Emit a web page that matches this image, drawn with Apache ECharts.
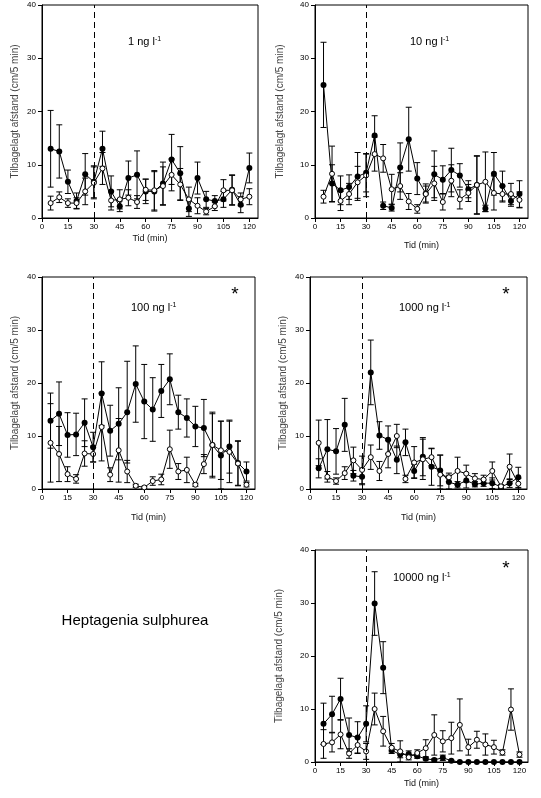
<!DOCTYPE html>
<html>
<head>
<meta charset="utf-8">
<script src="https://cdn.jsdelivr.net/npm/echarts@6/dist/echarts.min.js"></script>
<style>
  html, body { margin: 0; padding: 0; background: #fff; }
  #chart { width: 541px; height: 798px; }
</style>
</head>
<body>
<div id="chart"></div>
<script>
// tid (min) for hver maaling
var times = [5, 10, 15, 20, 25, 30, 35, 40, 45, 50, 55, 60, 65, 70, 75, 80, 85, 90, 95, 100, 105, 110, 115, 120];
var xTicks = [0, 15, 30, 45, 60, 75, 90, 105, 120];
var yTicks = [0, 10, 20, 30, 40];
var exposureStart = 30;
var concLabels = ['1', '10', '100', '1000', '10000'];
var significant = [false, false, true, true, true];

// 1 ng/l
var c1Filled    = [13, 12.5, 6.8, 3.2, 8.2, 6.8, 13, 5, 2.2, 7.5, 8.1, 5, 5, 6.5, 11, 8.4, 1.8, 7.5, 3.5, 3.2, 3.5, 5.3, 2.5, 9.4];
var c1FilledErr = [7.2, 5, 2.2, 1.5, 3.9, 3, 3.3, 2.9, 1, 3.2, 4.5, 2.3, 3.7, 4, 4.7, 5, 1.5, 3, 1.5, 1, 1.5, 2.8, 1.5, 2.8];
var c1Open      = [2.8, 3.9, 2.8, 2.8, 5, 6.6, 9.3, 3.3, 3.5, 3.8, 3, 5.3, 5.2, 6, 8.1, 6.3, 3.5, 2.3, 1.2, 2.2, 5.2, 5.2, 3.5, 4];
var c1OpenErr   = [1.3, 1, 0.8, 1, 2.5, 3, 3, 1.8, 1.8, 1.5, 1.2, 2, 3.7, 3.6, 3, 3, 2.3, 1.5, 0.6, 0.8, 2, 2.8, 1.2, 1.5];

// 10 ng/l
var c10Filled    = [25, 6.5, 5.2, 5.8, 7.8, 8.5, 15.5, 2.3, 1.9, 9.5, 14.8, 7.4, 4.6, 8.2, 7.2, 9, 8, 5.4, 6.2, 1.8, 8.3, 6, 3.2, 4.5];
var c10FilledErr = [8, 3.5, 2.7, 2.3, 4.5, 3.6, 3.7, 0.7, 0.6, 4.6, 6, 3, 1.8, 4.4, 2.6, 4.1, 2.2, 1.6, 5.5, 0.6, 4, 2.8, 1, 2.5];
var c10Open      = [4, 8.3, 3.2, 4.5, 6.7, 8, 12, 11.2, 5.4, 6, 3.1, 1.7, 4.5, 6.5, 3, 7, 3.5, 4.7, 6.2, 6.8, 4.7, 4.5, 4.5, 3.4];
var c10OpenErr   = [1.2, 5.2, 1.8, 2, 3, 4, 3.2, 2.6, 2.8, 2.5, 1.5, 0.8, 1.5, 3.2, 1.5, 3, 1.8, 1.6, 5.4, 5.6, 3.2, 1.5, 2, 1.5];

// 100 ng/l
var c100Filled    = [12.9, 14.2, 10.2, 10.3, 12.5, 7.9, 18, 11, 12.3, 14.5, 19.8, 16.5, 15, 18.5, 20.7, 14.5, 13.4, 11.8, 11.5, 8.3, 6.3, 8, 4.9, 3.3];
var c100FilledErr = [5.2, 6, 4.2, 4, 4.5, 2.8, 6, 4.8, 6.8, 9.6, 7.2, 7, 6, 5, 4.8, 3.2, 3.6, 3.8, 5.4, 5.9, 6.5, 5, 4.2, 1.8];
var c100Open      = [8.7, 6.6, 2.8, 1.9, 6.7, 6.6, 11.7, 2.7, 7.3, 3.3, 0.6, 0.3, 1.5, 1.8, 7.5, 3.3, 3.6, 0.8, 4.7, 8.3, 7.3, 7, 4.8, 0.8];
var c100OpenErr   = [7.4, 5.2, 1.4, 0.8, 2.4, 1.5, 6.4, 1.3, 6, 2.1, 0.3, 0.2, 0.8, 1, 3.6, 1.5, 2.4, 0.3, 1.8, 6.2, 5.5, 5.8, 4.2, 0.4];

// 1000 ng/l
var c1000Filled    = [3.9, 7.5, 7.1, 12.1, 2.5, 2.3, 22, 10.1, 9.3, 5.5, 8.8, 3.4, 6.1, 4.2, 3.5, 1.3, 0.8, 1.6, 0.9, 1.1, 1.1, 0.4, 1.1, 2.2];
var c1000FilledErr = [1.8, 5.6, 4.3, 5, 1, 1.5, 6.1, 2.6, 2.6, 2.6, 2.5, 1.3, 3.6, 3.5, 2.9, 1.3, 0.6, 1.4, 0.5, 0.6, 1, 0.3, 0.8, 1.9];
var c1000Open      = [8.7, 2.3, 1.5, 3, 5.4, 3.6, 6, 3.4, 6.6, 10, 1.9, 5, 5.6, 6, 2.7, 2.2, 3.4, 2.9, 2, 1.8, 3.4, 0.5, 4.2, 1];
var c1000OpenErr   = [4.3, 1, 0.6, 1.2, 2.5, 2.6, 2.3, 1.8, 2.6, 2.2, 0.7, 3, 3.8, 1.6, 3.7, 0.8, 2.6, 1.6, 0.9, 0.8, 1.7, 0.3, 2.4, 1];

// 10000 ng/l
var c10000Filled    = [7.2, 9, 11.9, 5.1, 4.6, 7.2, 29.9, 17.8, 2.2, 1.4, 1.5, 1.1, 0.6, 0.4, 0.8, 0.25, 0, 0, 0, 0, 0, 0, 0, 0];
var c10000FilledErr = [3.9, 3.4, 3.9, 3.2, 3, 3.4, 6, 4.9, 0.6, 0.6, 0.6, 0.4, 0.2, 0.2, 0.5, 0.1, 0, 0, 0, 0, 0, 0, 0, 0];
var c10000Open      = [3.4, 3.7, 5.2, 1.6, 3.2, 2, 10, 5.8, 2.7, 2, 0.9, 1.7, 2.6, 5.1, 3.9, 4.5, 7, 2.8, 4.2, 3.3, 2.8, 1.8, 9.9, 1.4];
var c10000OpenErr   = [2.7, 1.8, 2.7, 0.9, 1.5, 1.5, 3, 2.8, 0.8, 2, 0.5, 0.6, 1.6, 3.8, 2, 3, 4.9, 1.5, 1.6, 2, 1.3, 0.5, 3.9, 0.5];

var panels = [
  { filled: c1Filled, filledErr: c1FilledErr, open: c1Open, openErr: c1OpenErr },
  { filled: c10Filled, filledErr: c10FilledErr, open: c10Open, openErr: c10OpenErr },
  { filled: c100Filled, filledErr: c100FilledErr, open: c100Open, openErr: c100OpenErr },
  { filled: c1000Filled, filledErr: c1000FilledErr, open: c1000Open, openErr: c1000OpenErr },
  { filled: c10000Filled, filledErr: c10000FilledErr, open: c10000Open, openErr: c10000OpenErr }
];

var FONT = 'Liberation Sans, Arial, sans-serif';

// placering af de fem plots
var grids = [
  { left: 42, top: 5, width: 216, height: 213 },
  { left: 315, top: 5, width: 213, height: 213 },
  { left: 42, top: 277, width: 213, height: 212 },
  { left: 310, top: 277, width: 217, height: 212 },
  { left: 315, top: 550, width: 213, height: 212 }
];
var yNameGap = [22, 30, 22, 22, 31];
var xNameGap = [16, 23, 24, 24, 17];
var titlePos = [[128, 42], [410, 42], [131, 308], [399, 308], [393, 578]];
var starPos = [null, null, [235, 295], [506, 295], [506, 569]];

var myChart = echarts.init(document.getElementById('chart'), null, { renderer: 'canvas' });

// fejlsøjler tegnes med custom series
var renderErr = function (params, api) {
  var x = api.value(0), y = api.value(1), e = api.value(2);
  if (!e) return;
  var hi = api.coord([x, y + e]);
  var lo = api.coord([x, Math.max(0, y - e)]);
  var w = 3;
  var st = { stroke: '#000', lineWidth: 1 };
  return {
    type: 'group',
    children: [
      { type: 'line', shape: { x1: hi[0], y1: hi[1], x2: lo[0], y2: lo[1] }, style: st },
      { type: 'line', shape: { x1: hi[0] - w, y1: hi[1], x2: hi[0] + w, y2: hi[1] }, style: st },
      { type: 'line', shape: { x1: lo[0] - w, y1: lo[1], x2: lo[0] + w, y2: lo[1] }, style: st }
    ]
  };
};

var zip = function (vals, errs) {
  return times.map(function (t, i) { return [t, vals[i], errs ? errs[i] : 0]; });
};

var option = {
  animation: false,
  backgroundColor: '#fff',
  textStyle: { fontFamily: FONT },
  grid: [],
  xAxis: [],
  yAxis: [],
  series: [],
  graphic: []
};

grids.forEach(function (g, i) {
  option.grid.push({
    left: g.left, top: g.top, width: g.width, height: g.height,
    show: true, borderColor: '#000', borderWidth: 1, backgroundColor: 'transparent'
  });
  option.xAxis.push({
    type: 'value', gridIndex: i, min: 0, max: 125,
    name: 'Tid (min)', nameLocation: 'middle', nameGap: xNameGap[i],
    nameTextStyle: { fontSize: 9, color: '#111', fontFamily: FONT },
    axisLine: { show: true, lineStyle: { color: '#000', width: 1 } },
    axisTick: { show: true, inside: false, length: 4, customValues: xTicks, lineStyle: { color: '#000' } },
    axisLabel: { fontSize: 8, color: '#000', margin: 5, customValues: xTicks, fontFamily: FONT },
    splitLine: { show: false }
  });
  option.yAxis.push({
    type: 'value', gridIndex: i, min: 0, max: 40, interval: 10,
    name: 'Tilbagelagt afstand (cm/5 min)', nameLocation: 'middle', nameGap: yNameGap[i],
    nameTextStyle: { fontSize: 10, color: '#444', fontFamily: FONT },
    axisLine: { show: true, lineStyle: { color: '#000', width: 1 } },
    axisTick: { show: true, inside: false, length: 4, lineStyle: { color: '#000' } },
    axisLabel: { fontSize: 8, color: '#000', margin: 6, fontFamily: FONT },
    splitLine: { show: false }
  });

  var p = panels[i];
  option.series.push({
    type: 'custom', xAxisIndex: i, yAxisIndex: i, z: 1,
    renderItem: renderErr, encode: { x: 0, y: 1 }, data: zip(p.filled, p.filledErr), silent: true
  });
  option.series.push({
    type: 'custom', xAxisIndex: i, yAxisIndex: i, z: 1,
    renderItem: renderErr, encode: { x: 0, y: 1 }, data: zip(p.open, p.openErr), silent: true
  });
  option.series.push({
    type: 'line', xAxisIndex: i, yAxisIndex: i, z: 3,
    data: zip(p.filled), symbol: 'circle', symbolSize: 6, showAllSymbol: true,
    lineStyle: { color: '#000', width: 1 },
    itemStyle: { color: '#000', borderWidth: 0 },
    markLine: {
      silent: true, symbol: 'none', label: { show: false },
      lineStyle: { color: '#000', width: 1, type: [6, 4] },
      data: [{ xAxis: exposureStart }]
    }
  });
  option.series.push({
    type: 'line', xAxisIndex: i, yAxisIndex: i, z: 4,
    data: zip(p.open), symbol: 'circle', symbolSize: 5, showAllSymbol: true,
    lineStyle: { color: '#000', width: 1 },
    itemStyle: { color: '#fff', borderColor: '#000', borderWidth: 1 }
  });

  option.graphic.push({
    type: 'text', x: titlePos[i][0], y: titlePos[i][1], z: 10,
    style: {
      text: '{n|' + concLabels[i] + ' ng l}{s|-1}',
      verticalAlign: 'middle',
      rich: {
        n: { fontSize: 11, fill: '#000', fontFamily: FONT },
        s: { fontSize: 7, fill: '#000', fontFamily: FONT, verticalAlign: 'top', padding: [0, 0, 6, 0] }
      }
    }
  });
  if (significant[i]) {
    option.graphic.push({
      type: 'text', x: starPos[i][0], y: starPos[i][1], z: 10,
      style: { text: '*', fontSize: 19, fill: '#000', fontFamily: FONT, align: 'center', verticalAlign: 'middle' }
    });
  }
});

option.graphic.push({
  type: 'text', x: 135, y: 621, z: 10,
  style: { text: 'Heptagenia sulphurea', fontSize: 15, fill: '#000', fontFamily: FONT, align: 'center', verticalAlign: 'middle' }
});

myChart.setOption(option);
</script>
</body>
</html>
